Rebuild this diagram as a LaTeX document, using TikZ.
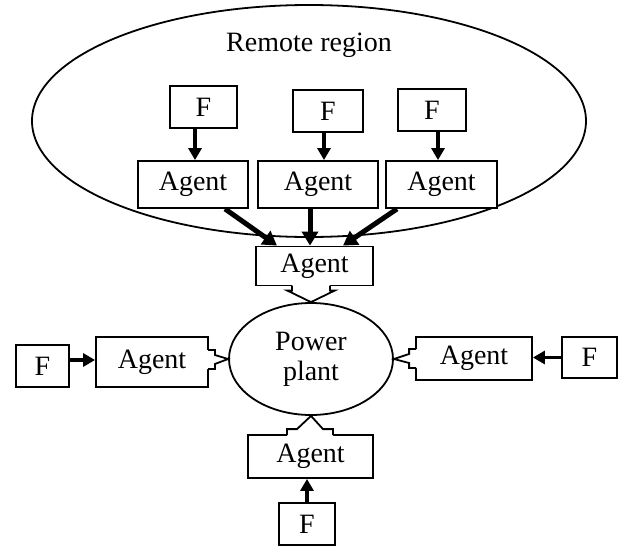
\documentclass[tikz,border=0pt]{standalone}
\usepackage{fontspec}
\setmainfont{Liberation Serif}
\usetikzlibrary{arrows.meta,calc,shapes.geometric}
\begin{document}
\begin{tikzpicture}[x=1pt,y=-1pt,
  txt/.style={font=\fontsize{28}{30}\selectfont},
  box/.style={txt,draw,line width=1.8pt,rectangle,fill=white,inner sep=0pt},
  oval/.style={txt,draw,line width=1.8pt,ellipse,inner sep=0pt,align=center},
  thinarr/.style={line width=3.5pt,-{Triangle[width=13pt,length=12pt]}},
  thickarr/.style={line width=5pt,-{Triangle[width=16pt,length=14pt]}},
  hollowline/.style={draw,line width=1.8pt,line join=miter},
  hollowfill/.style={fill=white}
]
\useasboundingbox (0,0) rectangle (619,546);

% remote region
\node[oval,minimum width=554pt,minimum height=232pt] (RR) at (309,121) {};
\node[txt] (RRt) at (309,45) {Remote region};

% top F boxes and agents
\node[box,minimum width=67pt,minimum height=42pt] (F1) at (203.5,107) {F};
\node[box,minimum width=70pt,minimum height=42pt] (F2) at (328,111) {F};
\node[box,minimum width=68pt,minimum height=42pt] (F3) at (432,110) {F};
\node[box,minimum width=110pt,minimum height=47pt] (A1) at (193,184.5) {Agent};
\node[box,minimum width=120pt,minimum height=47pt] (A2) at (318,184.5) {Agent};
\node[box,minimum width=111pt,minimum height=47pt] (A3) at (441.5,184.5) {Agent};

\node[box,minimum width=117pt,minimum height=39pt] (M) at (314.5,266) {Agent};

% power plant
\node[oval,fill=white,minimum width=164pt,minimum height=112pt] (P) at (311,359) {Power\\plant};

% side and bottom agents
\node[box,minimum width=112pt,minimum height=50pt] (L) at (152,362) {Agent};
\node[box,minimum width=53pt,minimum height=42pt] (LF) at (42.5,366) {F};
\node[box,minimum width=116pt,minimum height=43pt] (R) at (474,358.5) {Agent};
\node[box,minimum width=55pt,minimum height=41pt] (RF) at (589.5,357.5) {F};
\node[box,minimum width=125pt,minimum height=43pt] (B) at (310.5,456.5) {Agent};
\node[box,minimum width=56pt,minimum height=42pt] (BF) at (307,524) {F};

% F -> Agent arrows (top)
\draw[thinarr] ($(A1.north |- F1.south)+(2,0)$) -- ($(A1.north)+(2,0)$);
\draw[thinarr] ($(A2.north |- F2.south)+(6,0)$) -- ($(A2.north)+(6,0)$);
\draw[thinarr] ($(A3.north |- F3.south)+(-3.5,0)$) -- ($(A3.north)+(-3.5,0)$);

% Agent -> middle agent
\draw[thickarr] ($(A1.south)+(32,0)$) -- ($(M.north)+(-37.5,0)$);
\draw[thickarr] ($(A2.south)+(-8,0)$) -- ($(M.north)+(-4.5,0)$);
\draw[thickarr] ($(A3.south)+(-44.5,0)$) -- ($(M.north)+(28.5,0)$);

% F -> side/bottom agents
\draw[thinarr] ($(LF.east)+(0,-6)$) -- ($(L.west)+(0,-2)$);
\draw[thinarr] (RF.west) -- (R.east |- RF.west);
\draw[thinarr] (BF.north) -- (BF.north |- B.south);

% hollow arrows
% top: M -> P
\path[hollowfill] ($(M.south)+(-22.5,-2.5)$) -- ($(M.south)+(-22.5,4)$) -- ($(M.south)+(-27.5,4)$) -- (P.north)
  -- ($(M.south)+(20.5,4)$) -- ($(M.south)+(15.5,4)$) -- ($(M.south)+(15.5,-2.5)$) -- cycle;
\draw[hollowline] ($(M.south)+(-22.5,-0.9)$) -- ($(M.south)+(-22.5,4)$) -- ($(M.south)+(-27.5,4)$) -- (P.north)
  -- ($(M.south)+(20.5,4)$) -- ($(M.south)+(15.5,4)$) -- ($(M.south)+(15.5,-0.9)$);
% bottom: B -> P
\path[hollowfill] ($(B.north)+(-23.5,2.5)$) -- ($(B.north)+(-23.5,-5)$) -- ($(B.north)+(-13.5,-5)$) -- (P.south)
  -- ($(B.north)+(12.5,-5)$) -- ($(B.north)+(22.5,-5)$) -- ($(B.north)+(22.5,2.5)$) -- cycle;
\draw[hollowline] ($(B.north)+(-23.5,0.9)$) -- ($(B.north)+(-23.5,-5)$) -- ($(B.north)+(-13.5,-5)$) -- (P.south)
  -- ($(B.north)+(12.5,-5)$) -- ($(B.north)+(22.5,-5)$) -- ($(B.north)+(22.5,0.9)$);
% left: L -> P
\path[hollowfill] ($(L.east)+(-2.5,-12)$) -- ($(L.east)+(6,-12)$) -- ($(L.east)+(6,-7)$) -- (P.west)
  -- ($(L.east)+(6,2)$) -- ($(L.east)+(6,7)$) -- ($(L.east)+(-2.5,7)$) -- cycle;
\draw[hollowline] ($(L.east)+(-0.9,-12)$) -- ($(L.east)+(6,-12)$) -- ($(L.east)+(6,-7)$) -- (P.west)
  -- ($(L.east)+(6,2)$) -- ($(L.east)+(6,7)$) -- ($(L.east)+(-0.9,7)$);
% right: R -> P
\path[hollowfill] ($(R.west)+(2.5,-9.5)$) -- ($(R.west)+(-6,-9.5)$) -- ($(R.west)+(-6,-4.5)$) -- (P.east)
  -- ($(R.west)+(-6,4.5)$) -- ($(R.west)+(-6,9.5)$) -- ($(R.west)+(2.5,9.5)$) -- cycle;
\draw[hollowline] ($(R.west)+(0.9,-9.5)$) -- ($(R.west)+(-6,-9.5)$) -- ($(R.west)+(-6,-4.5)$) -- (P.east)
  -- ($(R.west)+(-6,4.5)$) -- ($(R.west)+(-6,9.5)$) -- ($(R.west)+(0.9,9.5)$);
\end{tikzpicture}
\end{document}
